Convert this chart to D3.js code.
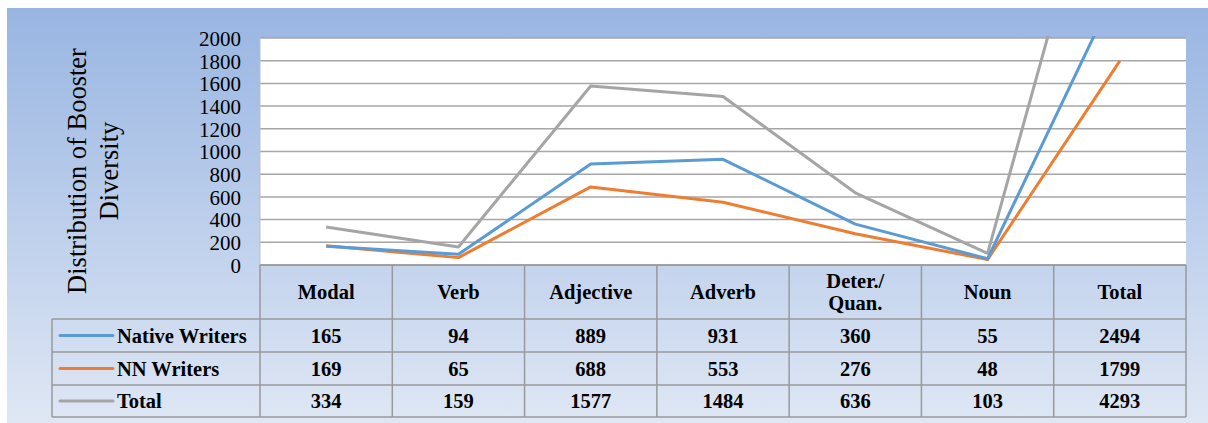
<!DOCTYPE html>
<html><head><meta charset="utf-8">
<script src="https://cdn.jsdelivr.net/npm/d3@7"></script>
<style>html,body{margin:0;padding:0;background:#fff;}svg{display:block;}
svg text{font-family:"Times New Roman","Liberation Serif","DejaVu Serif",serif;}</style>
</head><body>
<svg id="chart" width="1208" height="423"></svg>
<script>
const categories = ["Modal","Verb","Adjective","Adverb","Deter./Quan.","Noun","Total"];
const nativeWriters = [165,94,889,931,360,55,2494];
const nnWriters = [169,65,688,553,276,48,1799];
const totalValues = [334,159,1577,1484,636,103,4293];
const seriesNames = ["Native Writers","NN Writers","Total"];
const yTicks = [0,200,400,600,800,1000,1200,1400,1600,1800,2000];
const yTitle = ["Distribution of Booster","Diversity"];

const series = [
  {name: seriesNames[0], values: nativeWriters, color: "#5b9bd5"},
  {name: seriesNames[1], values: nnWriters, color: "#ed7d31"},
  {name: seriesNames[2], values: totalValues, color: "#a5a5a5"}
];

const svg = d3.select("#chart");

// background gradient
const defs = svg.append("defs");
const grad = defs.append("linearGradient").attr("id","bg").attr("x1",0).attr("y1",0).attr("x2",0).attr("y2",1);
grad.append("stop").attr("offset","0%").attr("stop-color","#98b5e2");
grad.append("stop").attr("offset","100%").attr("stop-color","#dfe7f4");
svg.append("rect").attr("x",7).attr("y",8).attr("width",1201).attr("height",415).attr("fill","url(#bg)");

const pLeft = 260, pRight = 1186, pTop = 38, pBottom = 265;
const x = d3.scaleBand().domain(categories).range([pLeft,pRight]);
const y = d3.scaleLinear().domain([0,2000]).range([pBottom,pTop]);

defs.append("clipPath").attr("id","plotclip").append("rect")
  .attr("x",pLeft).attr("y",pTop-2).attr("width",pRight-pLeft).attr("height",pBottom-pTop+4);

// plot area
svg.append("rect").attr("x",pLeft).attr("y",pTop).attr("width",pRight-pLeft).attr("height",pBottom-pTop).attr("fill","#fff");

// gridlines
svg.append("g").selectAll("line").data(yTicks).join("line")
  .attr("x1",pLeft).attr("x2",pRight)
  .attr("y1",d=>y(d)).attr("y2",d=>y(d))
  .attr("stroke","#a6a6a6").attr("stroke-width",1.5);
svg.append("line").attr("x1",pLeft).attr("x2",pLeft).attr("y1",pTop).attr("y2",pBottom).attr("stroke","#bfbfbf").attr("stroke-width",1);

// y axis labels
const yAxis = d3.axisLeft(y).tickValues(yTicks).tickSize(0).tickPadding(0).tickFormat(d3.format("d"));
const ga = svg.append("g").attr("transform",`translate(${pLeft-19},0)`).call(yAxis);
ga.attr("font-family",null);
ga.select(".domain").remove();
ga.selectAll("text").attr("font-size",21).attr("fill","#000").attr("dy","0.35em");

// y title
const tt = svg.append("text").attr("transform","translate(77,171) rotate(-90)")
  .attr("text-anchor","middle").attr("font-size",26.5).attr("fill","#000");
yTitle.forEach((t,i)=>tt.append("tspan").attr("x",0).attr("dy", i===0 ? "0.35em" : "1.2em").text(t));

// lines
const line = d3.line().x((d,i)=>x(categories[i])+x.bandwidth()/2).y(d=>y(d));
const gl = svg.append("g").attr("clip-path","url(#plotclip)");
series.slice().reverse().forEach(s=>{
  gl.append("path").attr("d",line(s.values)).attr("fill","none")
    .attr("stroke",s.color).attr("stroke-width",3).attr("stroke-linejoin","round");
});

// table
const rowTops = [265,319,352,385,417];
const tableLeft = 52;
const border = "#999";
const tg = svg.append("g");
tg.append("line").attr("x1",pLeft).attr("x2",pRight).attr("y1",rowTops[0]).attr("y2",rowTops[0]).attr("stroke",border).attr("stroke-width",1.5);
rowTops.slice(1).forEach(r=>tg.append("line").attr("x1",tableLeft).attr("x2",pRight).attr("y1",r).attr("y2",r).attr("stroke",border).attr("stroke-width",1.5));
const colEdges = categories.map(c=>x(c)).concat([pRight]);
colEdges.forEach(cx=>tg.append("line").attr("x1",cx).attr("x2",cx).attr("y1",rowTops[0]).attr("y2",rowTops[4]).attr("stroke",border).attr("stroke-width",1.5));
tg.append("line").attr("x1",tableLeft).attr("x2",tableLeft).attr("y1",rowTops[1]).attr("y2",rowTops[4]).attr("stroke",border).attr("stroke-width",1.5);

// header
categories.forEach(c=>{
  const cx = x(c)+x.bandwidth()/2;
  const parts = c === "Deter./Quan." ? ["Deter./","Quan."] : [c];
  const cy = (rowTops[0]+rowTops[1])/2;
  const t = tg.append("text").attr("text-anchor","middle")
    .attr("font-weight","bold").attr("font-size",20.5).attr("fill","#000");
  parts.forEach((p,i)=>t.append("tspan").attr("x",cx)
    .attr("y", cy + (i - (parts.length-1)/2)*22).attr("dy","0.35em").text(p));
});

// rows
series.forEach((s,ri)=>{
  const cy = (rowTops[ri+1]+rowTops[ri+2])/2;
  tg.append("line").attr("x1",60).attr("x2",113).attr("y1",cy).attr("y2",cy)
    .attr("stroke",s.color).attr("stroke-width",3).attr("stroke-linecap","round");
  tg.append("text").attr("x",117).attr("y",cy).attr("dy","0.35em")
    .attr("font-weight","bold").attr("font-size",20.5).attr("fill","#000").text(s.name);
  s.values.forEach((v,i)=>{
    tg.append("text").attr("x",x(categories[i])+x.bandwidth()/2).attr("y",cy).attr("dy","0.35em")
      .attr("text-anchor","middle").attr("font-weight","bold")
      .attr("font-size",20.5).attr("fill","#000").text(v);
  });
});
</script>
</body></html>
